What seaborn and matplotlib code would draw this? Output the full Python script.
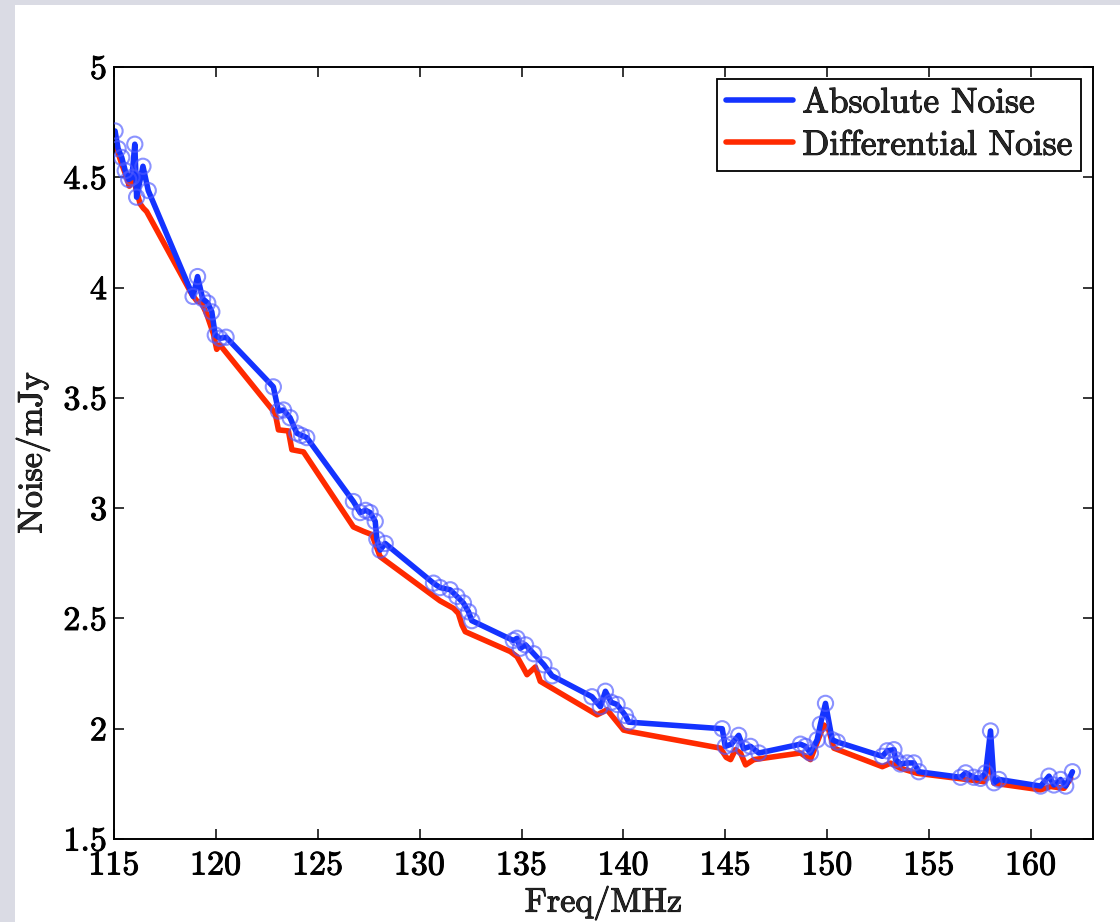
import matplotlib
matplotlib.use("Agg")
import matplotlib.pyplot as plt
import matplotlib.patheffects as pe
import numpy as np
import pandas as pd
import seaborn as sns
from matplotlib.patches import Rectangle

# absolute noise (blue, with circles)
abs_freq = [115.05, 115.2, 115.38, 115.55, 115.72, 115.88, 116.02, 116.11, 116.42, 116.68,
            118.88, 119.1, 119.35, 119.6, 119.8, 119.97, 120.2, 120.5,
            122.82, 123.07, 123.32, 123.64, 123.97, 124.2, 124.46,
            126.75, 127.08, 127.35, 127.57, 127.82, 127.9, 128.06, 128.31,
            130.68, 131.0, 131.5, 131.83, 132.15, 132.4, 132.56,
            134.6, 134.78, 134.94, 135.2, 135.6, 136.1, 136.5,
            138.46, 138.87, 139.12, 139.4, 139.69, 140.1, 140.26,
            144.85, 145.0, 145.3, 145.66, 145.9, 146.24, 146.65,
            148.69, 148.94, 149.18, 149.51, 149.67, 149.92, 150.25, 150.5,
            152.71, 152.95, 153.28, 153.36, 153.6, 153.93, 154.26, 154.5,
            156.55, 156.8, 157.2, 157.53, 157.78, 158.02, 158.19, 158.43,
            160.48, 160.89, 161.13, 161.46, 161.71, 162.04]
abs_noise = [4.71, 4.63, 4.59, 4.53, 4.49, 4.50, 4.65, 4.41, 4.55, 4.44,
             3.96, 4.05, 3.95, 3.93, 3.89, 3.785, 3.77, 3.775,
             3.55, 3.44, 3.445, 3.41, 3.34, 3.33, 3.32,
             3.03, 2.98, 2.99, 2.98, 2.94, 2.86, 2.81, 2.84,
             2.66, 2.64, 2.63, 2.60, 2.57, 2.53, 2.49,
             2.40, 2.41, 2.365, 2.38, 2.34, 2.29, 2.24,
             2.145, 2.10, 2.17, 2.12, 2.11, 2.06, 2.03,
             2.0, 1.92, 1.93, 1.97, 1.91, 1.92, 1.89,
             1.93, 1.92, 1.89, 1.95, 2.02, 2.115, 1.95, 1.94,
             1.875, 1.90, 1.905, 1.86, 1.84, 1.845, 1.845, 1.805,
             1.78, 1.80, 1.78, 1.775, 1.80, 1.99, 1.755, 1.77,
             1.74, 1.785, 1.745, 1.77, 1.74, 1.805]

# differential noise (red)
diff_freq = [115.05, 115.13, 115.38, 115.62, 115.75, 115.9, 116.1, 116.28, 116.44, 116.6,
             118.82, 119.06, 119.3, 119.55, 119.88, 120.04, 120.2,
             122.91, 123.07, 123.56, 123.73, 124.3,
             126.75, 127.24, 127.66, 128.06,
             131.0, 131.66, 131.9, 132.08, 132.24,
             134.45, 134.78, 135.1, 135.27, 135.68, 135.92,
             138.71, 139.2, 140.01, 140.34,
             144.76, 145.05, 145.26, 145.5, 145.75, 146.0, 146.4,
             148.69, 149.18, 149.84, 150.08, 150.33,
             152.71, 153.12, 153.6, 154.42,
             157.7, 157.94, 158.19,
             160.48, 160.97, 161.63, 161.96]
diff_noise = [4.63, 4.63, 4.56, 4.50, 4.46, 4.52, 4.44, 4.38, 4.36, 4.345,
              3.97, 3.94, 3.93, 3.88, 3.79, 3.72, 3.74,
              3.43, 3.355, 3.35, 3.265, 3.255,
              2.915, 2.895, 2.88, 2.78,
              2.58, 2.546, 2.523, 2.47, 2.44,
              2.35, 2.327, 2.274, 2.245, 2.28, 2.215,
              2.063, 2.086, 1.994, 1.987,
              1.912, 1.87, 1.86, 1.905, 1.89, 1.836, 1.86,
              1.89, 1.86, 2.017, 1.995, 1.912,
              1.828, 1.844, 1.821, 1.798,
              1.76, 1.855, 1.753,
              1.723, 1.738, 1.73, 1.776]

x_ticks = [115, 120, 125, 130, 135, 140, 145, 150, 155, 160]
y_ticks = [1.5, 2, 2.5, 3, 3.5, 4, 4.5, 5]
y_tick_labels = ["1.5", "2", "2.5", "3", "3.5", "4", "4.5", "5"]

BLUE = "#1433ff"
RED = "#ff2a00"

sns.set_style("ticks")
plt.rcParams["font.family"] = ["cmr10", "DejaVu Serif"]
plt.rcParams["axes.formatter.use_mathtext"] = True
plt.rcParams["mathtext.fontset"] = "cm"
fs = 24.5
heavy = [pe.withStroke(linewidth=0.7, foreground="black")]

abs_df = pd.DataFrame({"freq": abs_freq, "noise": abs_noise})
diff_df = pd.DataFrame({"freq": diff_freq, "noise": diff_noise})

fig = plt.figure(figsize=(11.2, 9.22), dpi=100, facecolor="#dadbe4")
# white slide panel behind the axes
fig.patches.append(Rectangle((15 / 1120, 0), 1, 1 - 5 / 922, transform=fig.transFigure,
                             facecolor="white", edgecolor="none", zorder=-10))
ax = fig.add_axes([0.1018, 0.090, 0.8741, 0.8373])
ax.set_zorder(1)

sns.lineplot(data=diff_df, x="freq", y="noise", color=RED, lw=4, sort=False,
             estimator=None, ax=ax)
sns.lineplot(data=abs_df, x="freq", y="noise", color=BLUE, lw=4, sort=False,
             estimator=None, ax=ax)
sns.scatterplot(data=abs_df, x="freq", y="noise", s=120, facecolors="none",
                edgecolors=[(0.3, 0.35, 1.0, 0.65)], linewidth=1.5, ax=ax, zorder=3)

red_line, blue_line = ax.get_lines()[:2]
leg = ax.legend([blue_line, red_line], ["Absolute Noise", "Differential Noise"],
                loc="upper right", fontsize=25.5, fancybox=False, framealpha=1,
                edgecolor="black", handlelength=1.9, handletextpad=0.25,
                borderpad=0.25, labelspacing=0.3, borderaxespad=0.33)
leg.get_frame().set_linewidth(1.3)
for t in leg.get_texts():
    t.set_path_effects(heavy)

ax.set_xlim(115, 163.05)
ax.set_ylim(1.5, 5)
ax.set_xticks(x_ticks)
ax.set_yticks(y_ticks, labels=y_tick_labels)
ax.tick_params(direction="in", top=True, right=True, length=7, width=1.1,
               labelsize=fs, colors="black")
ax.tick_params(axis="x", pad=9)
ax.tick_params(axis="y", pad=5)
for lab in ax.get_xticklabels() + ax.get_yticklabels():
    lab.set_path_effects(heavy)
for sp in ax.spines.values():
    sp.set_linewidth(1.4)
    sp.set_color("black")
ax.set_facecolor("white")
ax.set_xlabel("Freq/MHz", fontsize=fs, labelpad=4, path_effects=heavy)
ax.set_ylabel("Noise/mJy", fontsize=fs, labelpad=10, path_effects=heavy)

fig.savefig("out.png", dpi=100, facecolor=fig.get_facecolor())
